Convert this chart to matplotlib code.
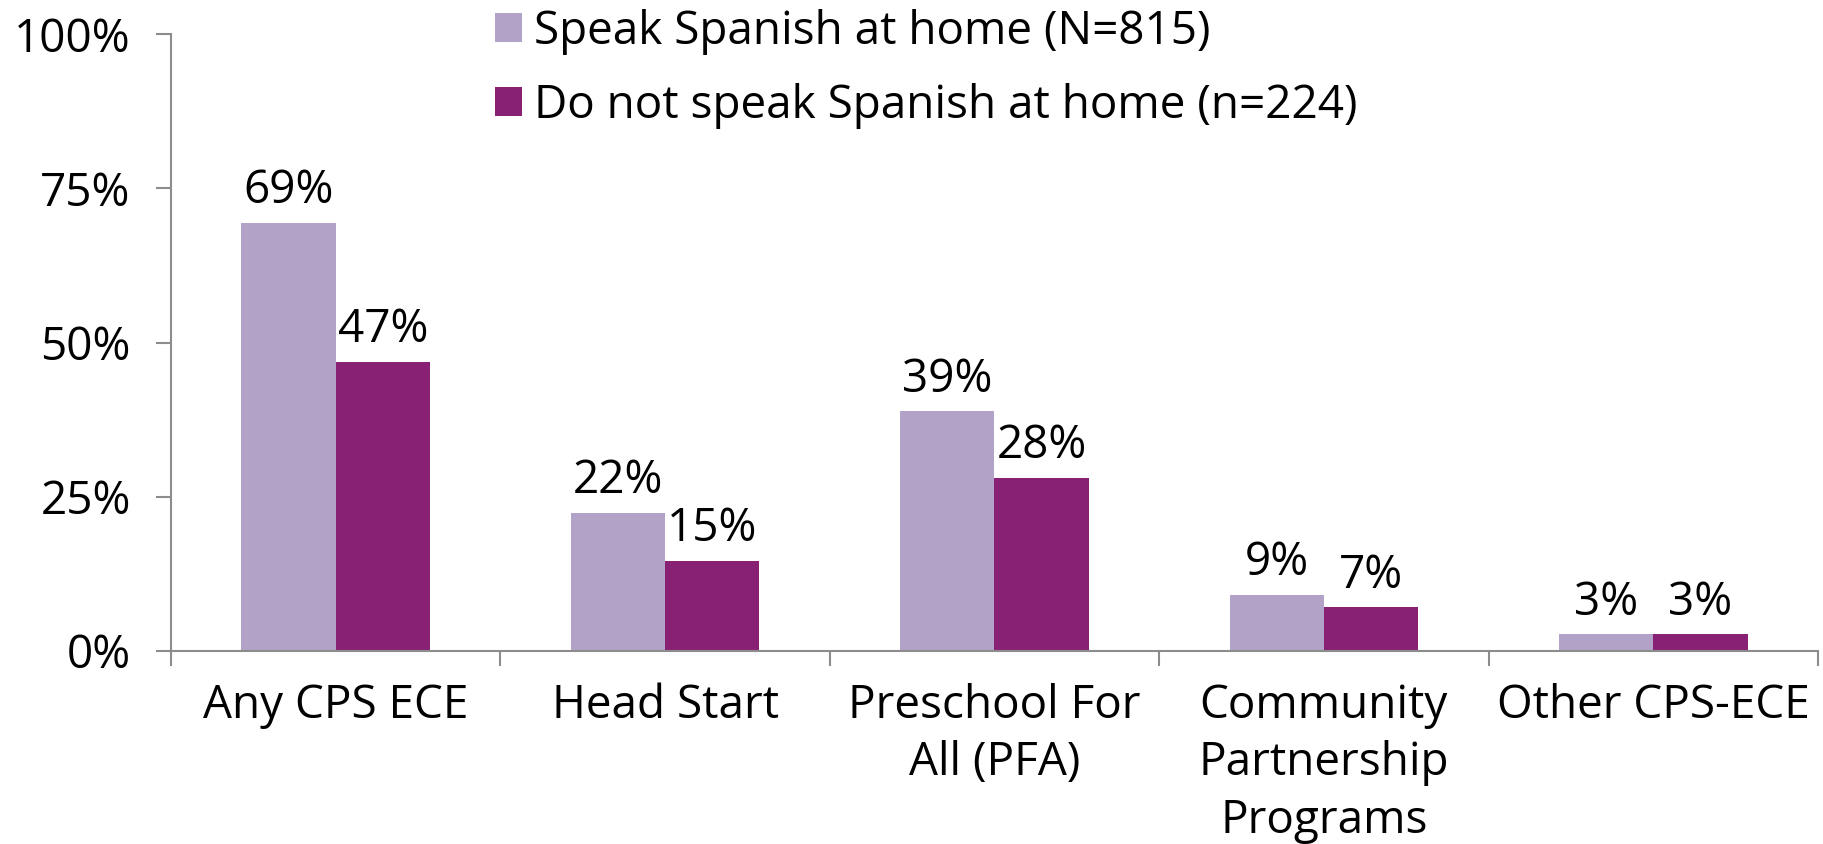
import numpy as np
import matplotlib
matplotlib.use("Agg")
import matplotlib.pyplot as plt

plt.rcParams['font.family'] = ['Open Sans', 'DejaVu Sans']

categories = ["Any CPS ECE", "Head Start", "Preschool For\nAll (PFA)",
              "Community\nPartnership\nPrograms", "Other CPS-ECE"]
spanish = [69.4, 22.4, 38.9, 9.1, 2.7]
no_spanish = [46.9, 14.6, 28.1, 7.1, 2.7]
spanish_labels = ["69%", "22%", "39%", "9%", "3%"]
no_spanish_labels = ["47%", "15%", "28%", "7%", "3%"]
legend_names = ["Speak Spanish at home (N=815)", "Do not speak Spanish at home (n=224)"]

light = "#B3A2C7"
dark = "#882173"
axis_gray = "#8C8C8C"
fs = 33

fig = plt.figure(figsize=(18.24, 8.44), dpi=100)
ax = fig.add_axes([171/1824, 193/844, (1818-171)/1824, (810-193)/844])

x = np.arange(len(categories))
w = 0.286
b1 = ax.bar(x - w/2, spanish, w, color=light, label=legend_names[0])
b2 = ax.bar(x + w/2, no_spanish, w, color=dark, label=legend_names[1])

for bars, labs in [(b1, spanish_labels), (b2, no_spanish_labels)]:
    for r, lab in zip(bars, labs):
        ax.annotate(lab, (r.get_x() + r.get_width()/2, r.get_height()),
                    xytext=(0, 14), textcoords="offset points",
                    ha="center", va="baseline", fontsize=fs)

ax.set_xlim(-0.5, len(categories) - 0.5)
ax.set_ylim(0, 100)
ax.set_yticks([0, 25, 50, 75, 100])
ax.set_yticklabels(["0%", "25%", "50%", "75%", "100%"])
ax.set_xticks(x)
ax.set_xticklabels(categories, linespacing=1.33)
ax.set_xticks(np.arange(len(categories) + 1) - 0.5, minor=True)

ax.tick_params(axis="y", length=11, width=1.5, color=axis_gray, pad=18, labelsize=fs)
ax.tick_params(axis="x", which="major", length=0, pad=23, labelsize=fs)
ax.tick_params(axis="x", which="minor", length=11, width=1.5, color=axis_gray)

for s in ["top", "right"]:
    ax.spines[s].set_visible(False)
for s in ["left", "bottom"]:
    ax.spines[s].set_color(axis_gray)
    ax.spines[s].set_linewidth(1.5)

ax.legend(loc="upper left", bbox_to_anchor=(490/1824, 1.0 - 4/844), bbox_transform=fig.transFigure,
          frameon=False, fontsize=fs, handlelength=0.6, handleheight=0.6,
          handletextpad=0.25, labelspacing=0.62, borderaxespad=0.0, borderpad=0.1)

fig.savefig("out.png", dpi=100, facecolor="white")
